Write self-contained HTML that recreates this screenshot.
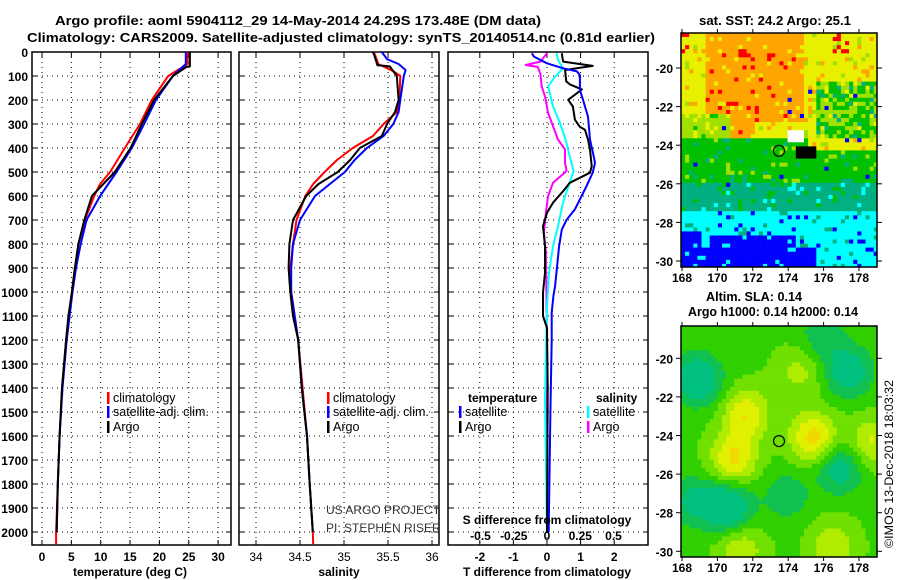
<!DOCTYPE html>
<html><head><meta charset="utf-8"><style>
html,body{margin:0;padding:0;background:#fff;}
svg{display:block;font-family:"Liberation Sans",sans-serif;}
.t{font-weight:bold;font-size:13px;fill:#000;}
</style></head><body>
<svg id="chart" width="900" height="580" viewBox="0 0 900 580" xmlns="http://www.w3.org/2000/svg">
<defs>
<clipPath id="p2clip"><rect x="239" y="52" width="199" height="493"/></clipPath>
<clipPath id="m1clip"><rect x="681" y="33" width="196" height="234"/></clipPath>
<clipPath id="m2clip"><rect x="681" y="326" width="196" height="231"/></clipPath>
</defs>
<g id="plots"></g>
<g id="titles">
<text class="t" x="55" y="25" textLength="486" lengthAdjust="spacingAndGlyphs">Argo profile: aoml 5904112_29 14-May-2014 24.29S 173.48E (DM data)</text>
<text class="t" x="27" y="42" textLength="628" lengthAdjust="spacingAndGlyphs">Climatology: CARS2009. Satellite-adjusted climatology: synTS_20140514.nc (0.81d earlier)</text>
<text class="t" x="775" y="25" text-anchor="middle" textLength="152" lengthAdjust="spacingAndGlyphs">sat. SST: 24.2 Argo: 25.1</text>
<text class="t" x="754" y="301" text-anchor="middle" textLength="96" lengthAdjust="spacingAndGlyphs">Altim. SLA: 0.14</text>
<text class="t" x="773" y="316" text-anchor="middle" textLength="170" lengthAdjust="spacingAndGlyphs">Argo h1000: 0.14 h2000: 0.14</text>
<text x="893" y="548" transform="rotate(-90 893 548)" font-size="12" textLength="168" lengthAdjust="spacingAndGlyphs">©IMOS 13-Dec-2018 18:03:32</text>
</g>
</svg>
<script>
// ---- data ----
const tempArgoDepth=[0,60,62,100,200,300,400,500,600,700,800,900,1000,1100,1200,1400,1600,1800,2000];
const tempArgo=[25.2,25.2,24.6,22.3,19.1,17.0,15.1,12.4,8.5,7.2,6.2,5.6,5.1,4.5,4.1,3.4,3.0,2.7,2.5];
const tempClimDepth=[0,50,100,150,200,300,400,500,550,600,700,800,900,1000,1200,1400,1600,1800,2000,2050];
const tempClim=[24.8,24.8,21.5,20.1,18.7,16.7,14.1,11.6,9.9,8.9,7.3,6.2,5.6,5.1,4.1,3.4,3.0,2.7,2.4,2.4];
const tempSatDepth=[0,50,100,200,300,400,500,600,700,800,900,1000,1200,1400,1600,1800,2000];
const tempSat=[24.5,24.5,22.3,19.4,17.4,15.3,12.7,9.9,7.6,6.6,5.8,5.2,4.2,3.5,3.0,2.7,2.5];
const salArgoDepth=[0,20,55,60,100,200,250,300,350,400,450,500,550,600,700,800,900,1000,1100,1200,1400,1600,1800,2000];
const salArgo=[35.33,35.35,35.38,35.52,35.6,35.62,35.58,35.49,35.43,35.18,35.07,34.93,34.71,34.57,34.42,34.38,34.37,34.39,34.42,34.48,34.52,34.58,34.61,34.645];
const salClimDepth=[0,50,80,100,200,250,300,350,400,450,500,550,600,700,800,900,1000,1200,1400,1600,1800,2000,2050];
const salClim=[35.34,35.39,35.56,35.64,35.63,35.6,35.45,35.33,35.1,34.92,34.78,34.65,34.56,34.46,34.42,34.39,34.4,34.48,34.53,34.58,34.61,34.645,34.65];
const salSatDepth=[0,30,50,75,100,200,250,300,350,400,450,500,550,600,700,800,900,1000,1200,1400,1600,1800,2000];
const salSat=[35.43,35.49,35.62,35.7,35.68,35.64,35.62,35.56,35.45,35.26,35.12,35.01,34.84,34.67,34.5,34.42,34.4,34.4,34.48,34.52,34.58,34.61,34.645];
const dTArgoDepth=[5,40,58,75,122,136,156,199,227,282,312,324,365,406,476,503,545,580,628,670,726,809,920,1003,1100,1150,1400,2000];
const dTArgo=[0.44,0.48,1.36,0.54,0.57,0.69,1.04,0.63,0.77,0.83,0.98,1.13,1.22,1.28,1.33,1.28,0.68,0.48,0.18,0,-0.12,-0.06,-0.06,-0.12,-0.12,0,0.02,0];
const dTSatDepth=[5,19,47,68,81,96,158,199,269,365,421,462,503,558,600,656,698,740,809,892,975,1017,1086,1200,1500,2000];
const dTSat=[-0.45,-0.39,0,0.48,0.89,0.98,0.98,1.07,1.22,1.28,1.37,1.43,1.36,1.18,1.03,0.83,0.59,0.44,0.36,0.3,0.24,0.19,0.14,0.14,0.1,0.05];
const dSArgoDepth=[5,40,54,62,90,143,185,254,309,365,406,462,496,545,600,670,753,836,1200,2000];
const dSArgo=[0,-0.05,-0.16,-0.07,-0.05,-0.04,-0.015,0.008,0.045,0.083,0.135,0.135,0.147,0.045,0.008,-0.008,-0.023,-0.008,0,0];
const dSSatDepth=[5,33,68,103,143,226,296,365,434,496,545,628,726,809,920,1058,1450,2000];
const dSSat=[0.073,0.083,0.12,0.06,0.008,0.045,0.098,0.14,0.17,0.2,0.17,0.12,0.083,0.045,0.015,0,-0.015,0];
const depthTicks=[0,100,200,300,400,500,600,700,800,900,1000,1100,1200,1300,1400,1500,1600,1700,1800,1900,2000];
const tempTicks=[0,5,10,15,20,25,30];
const salTicks=[34,34.5,35,35.5,36];
const salTickLabels=["34","34.5","35","35.5","36"];
const dTTicks=[-2,-1,0,1,2];
const dSTicks=[-0.5,-0.25,0,0.25,0.5];
const dSTickLabels=["-0.5","-0.25","0","0.25","0.5"];
const latTicks=[-20,-22,-24,-26,-28,-30];
const lonTicks=[168,170,172,174,176,178];
const argoLon=[173.48], argoLat=[-24.29];

// ---- axes ----
const yD=d=>52+d*0.24;
const xT=t=>42+t*5.87;
const xS=s=>256+(s-34)*88;
const xDT=v=>547+v*33.6;
const xDS=v=>547+v*133;
const PB=545;
const NS="http://www.w3.org/2000/svg";
const root=document.getElementById('plots');
function mk(tag,attrs,parent){const e=document.createElementNS(NS,tag);for(const k in attrs)e.setAttribute(k,attrs[k]);(parent||root).appendChild(e);return e;}
function txt(s,x,y,anchor,parent){const e=mk('text',{x:x,y:y,'text-anchor':anchor||'start','font-size':12,'font-weight':'bold'},parent);e.textContent=s;return e;}

function panel(name,x0,x1,ticks,xf){
  const g=mk('g',{});
  
  
  depthTicks.forEach(d=>{const l=mk('line',{x1:x0,x2:x1,y1:yD(d),y2:yD(d),stroke:'#000','stroke-width':1,'stroke-dasharray':'1,4'},g);
    
    
    mk('line',{x1:x0,x2:x0+5,y1:yD(d),y2:yD(d),stroke:'#000'},g);mk('line',{x1:x1-5,x2:x1,y1:yD(d),y2:yD(d),stroke:'#000'},g);});
  ticks.forEach(t=>{const x=xf(t);const l=mk('line',{x1:x,x2:x,y1:52,y2:PB,stroke:'#000','stroke-width':1,'stroke-dasharray':'1,4'},g);
    
    
    mk('line',{x1:x,x2:x,y1:52,y2:57,stroke:'#000'},g);mk('line',{x1:x,x2:x,y1:PB-5,y2:PB,stroke:'#000'},g);});
  const r=mk('rect',{x:x0,y:52,width:x1-x0,height:PB-52,fill:'none',stroke:'#000','stroke-width':1.5},g);
  
  
  return g;
}
function series(g,name,vals,depths,xf,color,w){
  const pts=vals.map((v,i)=>xf(v).toFixed(1)+','+yD(depths[i]).toFixed(1)).join(' ');
  const p=mk('polyline',{points:pts,fill:'none',stroke:color,'stroke-width':w||2,'stroke-linejoin':'round'},g);
  
  
}
function legendEntry(g,name,x,y,color,label){
  const e=mk('g',{},g);
  
  
  mk('rect',{x:x,y:y-10,width:2.5,height:12,fill:color},e);
  const t=mk('text',{x:x+6,y:y,'font-size':12.5},e);t.textContent=label;
}

const yl=mk('g',{});


depthTicks.forEach(d=>{txt(String(d),28,yD(d)+5,'end',yl);});

// panel 1 temperature
const g1=panel('temperature-panel',32,231,tempTicks,xT);
series(g1,'temp-climatology-line',tempClim,tempClimDepth,xT,'#f00');
series(g1,'temp-satellite-line',tempSat,tempSatDepth,xT,'#00f');
series(g1,'temp-argo-line',tempArgo,tempArgoDepth,xT,'#000');
tempTicks.forEach(t=>txt(String(t),xT(t),561,'middle',g1));
txt('temperature (deg C)',130,576,'middle',g1);
legendEntry(g1,'legend-climatology',107,402,'#f00','climatology');
legendEntry(g1,'legend-satellite-adj',107,416,'#00f','satellite-adj. clim.');
legendEntry(g1,'legend-argo',107,431,'#000','Argo');

// panel 2 salinity
const g2=panel('salinity-panel',239,439,salTicks,xS);
series(g2,'sal-climatology-line',salClim,salClimDepth,xS,'#f00');
series(g2,'sal-satellite-line',salSat,salSatDepth,xS,'#00f');
series(g2,'sal-argo-line',salArgo,salArgoDepth,xS,'#000');
salTicks.forEach((t,i)=>{const e=mk('text',{x:xS(t),y:561,'text-anchor':'middle','font-size':12},g2);e.textContent=salTickLabels[i];});
txt('salinity',339,576,'middle',g2);
legendEntry(g2,'legend-climatology-2',327,402,'#f00','climatology');
legendEntry(g2,'legend-satellite-adj-2',327,416,'#00f','satellite-adj. clim.');
legendEntry(g2,'legend-argo-2',327,431,'#000','Argo');
const cg=mk('g',{'clip-path':'url(#p2clip)'},g2);
[['US ARGO PROJECT',514],['PI: STEPHEN RISER',532]].forEach(a=>{const e=mk('text',{x:326,y:a[1],'font-size':12,fill:'#333'},cg);e.textContent=a[0];
  
  });

// panel 3 differences
const g3=panel('difference-panel',448,648,dTTicks,xDT);
series(g3,'sal-diff-argo-line',dSArgo,dSArgoDepth,xDS,'#f0f');
series(g3,'sal-diff-satellite-line',dSSat,dSSatDepth,xDS,'#0ff');
series(g3,'temp-diff-argo-line',dTArgo,dTArgoDepth,xDT,'#000');
series(g3,'temp-diff-satellite-line',dTSat,dTSatDepth,xDT,'#00f');
dTTicks.forEach(t=>txt(String(t),xDT(t),561,'middle',g3));
dSTicks.forEach((t,i)=>txt(dSTickLabels[i],xDS(t),540,'middle',g3));
txt('T difference from climatology',547,576,'middle',g3);
txt('S difference from climatology',547,524,'middle',g3);
txt('temperature',468,402,'start',g3);
txt('salinity',596,402,'start',g3);
legendEntry(g3,'legend-temp-satellite',459,416,'#00f','satellite');
legendEntry(g3,'legend-temp-argo',459,431,'#000','Argo');
legendEntry(g3,'legend-sal-satellite',587,416,'#0ff','satellite');
legendEntry(g3,'legend-sal-argo',587,431,'#f0f','Argo');

// ---- maps (image texture) ----
function hash(i,j){let h=(Math.imul(i+17,374761393)+Math.imul(j+31,668265263))|0;h=Math.imul(h^(h>>>13),1274126177);h^=h>>>16;h=Math.imul(h^(h>>>15),2246822519);h^=h>>>13;return (h>>>0)/4294967296;}
function mapFrame(name,clip){
  const g=mk('g',{});
  
  
  const inner=mk('g',{'clip-path':clip},g);
  return [g,inner];
}
const lonX=l=>682+(l-168)*17.7;
const [m1,m1i]=mapFrame('sst-map','url(#m1clip)');
const latY1=la=>68+(-20-la)*19.3;
const cw=4.1,ch=4.05;
const pal=['#0000ff','#00ffff','#00b080','#00c000','#a0e000','#e8f000','#ffa500','#ff0000'];
for(let j=0;j*ch<234;j++){for(let i=0;i*cw<196;i++){
  const x=681+i*cw,y=33+j*ch;
  const lat=-20-(y-68)/19.3, lon=168+(x-682)/17.7;
  let v;
  if(lat>-23.6){v=6; if(lon<169.3||lon>174.8) v=5; if(lat<-22.2&&lon<170.5) v=4; if(lon>175.5&&lat<-20.5) v=hash(i,j)<0.5?4:3; if(lat<-22.8&&lon>172&&lon<175) v=5;}
  else if(lat>-25.8){v=3; if(lat>-24.2&&lon>175) v=5;}
  else if(lat>-27.3){v=2;}
  else {v=1; if((lon<169&&lat<-28.3)||(lat<-29.2&&lon<175.5)||(lat<-28.6&&lon>169.5&&lon<174.2)) v=0;}
  const r=hash(i,j);
  if(r<0.08) v=Math.min(7,v+1); else if(r>0.93) v=Math.max(0,v-1);
  if(r>0.99 && lat>-26.5 && lat<-21) v=0;
  if(lat>-19.2&&((lon<168.4)||(lon>176.5&&lon<177.3))&&r<0.5) v=7;
  let col=pal[v];
  if(lat<-23.2&&lat>-23.8&&lon>173.8&&lon<174.8) col='#fff';
  if(lat<-23.9&&lat>-24.5&&lon>174.4&&lon<175.4) col='#000';
  mk('rect',{x:x.toFixed(1),y:y.toFixed(1),width:cw+0.3,height:ch+0.3,fill:col},m1i);
}}
const [m2,m2i]=mapFrame('sla-map','url(#m2clip)');
const latY2=la=>358.3+(-20-la)*19.3;
const blobLon=[171.5,170.8,175.3,178.6,174.5,171.2,176.4,168.8,170.5,177.3,176.8,173.8,168.5,175.8];
const blobLat=[-22.8,-25.1,-24.0,-24.2,-20.6,-29.8,-29.6,-21.0,-27.6,-20.6,-25.6,-27.0,-27.3,-18.8];
const blobAmp=[1.2,1.3,1.4,0.9,0.6,0.8,0.8,-1.3,-1.4,-1.1,-1.0,-0.6,-0.8,-0.6];
const slaPal=['#00c080','#10c050','#30d000','#70e000','#b0ec00','#e0f000','#f0d800','#f0c800'];
for(let j=0;j*ch<232;j++){for(let i=0;i*cw<197;i++){
  const x=681+i*cw,y=326+j*ch;
  const lat=-20-(y-358.3)/19.3, lon=168+(x-682)/17.7;
  let v=0;
  for(let k=0;k<blobLon.length;k++){const dx=(lon-blobLon[k])/1.3,dy=(lat-blobLat[k])/1.3;v+=blobAmp[k]*Math.exp(-(dx*dx+dy*dy));}
  let idx=Math.round(2.3+v*2.6);idx=Math.max(0,Math.min(7,idx));
  mk('rect',{x:x.toFixed(1),y:y.toFixed(1),width:cw+0.3,height:ch+0.3,fill:slaPal[idx]},m2i);
}}
[[m1,33,267,latY1,282],[m2,326,557,latY2,572]].forEach(([g,top,bot,ly,lbY])=>{
  mk('rect',{x:681,y:top,width:196,height:bot-top,fill:'none',stroke:'#000','stroke-width':1.5},g);
  latTicks.forEach(la=>{const y=ly(la);mk('line',{x1:681,x2:676,y1:y,y2:y,stroke:'#000'},g);mk('line',{x1:877,x2:882,y1:y,y2:y,stroke:'#000'},g);txt(String(la),673,y+5,'end',g);});
  lonTicks.forEach(lo=>{const x=lonX(lo);mk('line',{x1:x,x2:x,y1:top,y2:top-4,stroke:'#000'},g);mk('line',{x1:x,x2:x,y1:bot,y2:bot+4,stroke:'#000'},g);txt(String(lo),x,lbY,'middle',g);});
  argoLon.forEach((lo,k)=>{const c=mk('circle',{cx:lonX(lo),cy:ly(argoLat[k]),r:5.5,fill:'none',stroke:'#000','stroke-width':1.2},g);
    
    });
});
</script>
</body></html>
